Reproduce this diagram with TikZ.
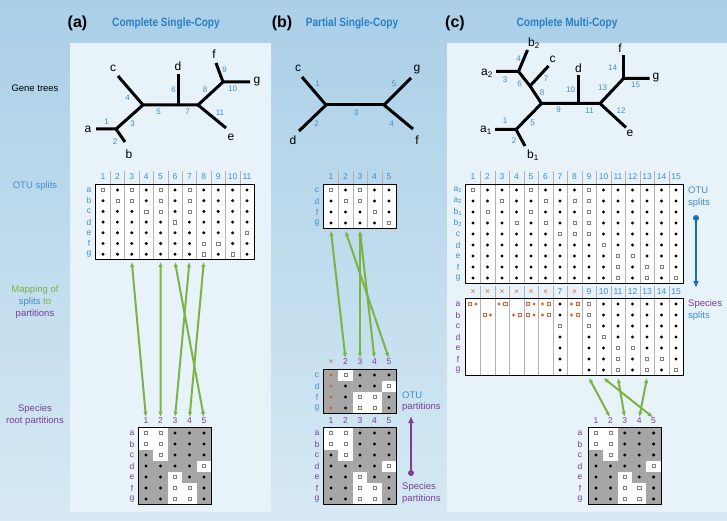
\documentclass[tikz,border=0pt]{standalone}
\usepackage{fontspec}
\setmainfont{Liberation Sans}
\newfontfamily\titlefont[FakeStretch=0.84]{Liberation Sans}
\usetikzlibrary{arrows.meta,positioning}

\definecolor{bgtop}{RGB}{170,207,231}
\definecolor{bgbot}{RGB}{214,233,244}
\definecolor{panelbg}{RGB}{231,242,249}
\definecolor{ttlblue}{RGB}{40,128,198}
\definecolor{lblblue}{RGB}{62,142,204}
\definecolor{arrowblue}{RGB}{22,112,184}
\definecolor{splitpurple}{RGB}{122,62,152}
\definecolor{mapgreen}{RGB}{122,180,70}
\definecolor{xorange}{RGB}{222,98,48}
\definecolor{partgray}{RGB}{166,166,166}
\definecolor{gridgray}{RGB}{178,178,178}

% one cell of a split matrix, drawn at (\cx,\cy)
\newcommand{\cellD}{\fill (\cx,\cy) circle (1.65);}
\newcommand{\cellS}{\fill[white] (\cx-\cellw/2,\cy-\cellh/2) rectangle ++(\cellw,\cellh);
  \draw[sqmark] (\cx-1.6,\cy-1.6) rectangle ++(3.2,3.2);}
\newcommand{\cellN}{}
\newcommand{\cellO}{\fill[xorange] (\cx,\cy) circle (1.65);}
\newcommand{\cellP}{\draw[sqmark,draw=xorange] (\cx-4.8,\cy-1.6) rectangle ++(3.2,3.2);
  \fill[xorange] (\cx+3,\cy) circle (1.65);}
\newcommand{\cellQ}{\fill[xorange] (\cx-3,\cy) circle (1.65);
  \draw[sqmark,draw=xorange] (\cx+1.6,\cy-1.6) rectangle ++(3.2,3.2);}
% rows of cells: x0, dx, y0, dy, rows
\newcommand{\splitrows}[5]{%
  \foreach \row [count=\i] in {#5} {
    \foreach \v [count=\j] in \row {
      \pgfmathsetmacro\cx{#1+(\j-1)*#2}
      \pgfmathsetmacro\cy{#3+(\i-1)*#4}
      \csname cell\v\endcsname
    }
  }}

\begin{document}
\begin{tikzpicture}[x=1pt,y=-1pt,
  edge/.style={line width=3pt,line join=miter},
  leaf/.style={font=\fontsize{12}{12}\selectfont,inner sep=0pt},
  elab/.style={font=\fontsize{8}{8}\selectfont,text=lblblue,inner sep=0pt},
  colnum/.style={font=\fontsize{8.5}{8.5}\selectfont,inner sep=0pt},
  rowlab/.style={font=\fontsize{8.5}{8.5}\selectfont,inner sep=0pt},
  sidelab/.style={font=\fontsize{9.5}{12}\selectfont,align=center,inner sep=0pt},
  ttl/.style={font=\titlefont\bfseries\fontsize{12}{12}\selectfont,text=ttlblue},
  letter/.style={font=\bfseries\fontsize{16}{16}\selectfont},
  note/.style={font=\fontsize{9.5}{9.5}\selectfont,anchor=west,inner sep=0pt},
  maparrow/.style={draw=mapgreen,line width=2pt,shorten >=1pt,
    {Latex[length=5pt,width=4.5pt]}-{Latex[length=5pt,width=4.5pt]}},
  sqmark/.style={draw=black!50,line width=0.35pt,fill=white},
  sepline/.style={draw=gridgray,line width=0.5pt},
  gridbox/.style={draw=black,line width=0.9pt},
  dotnode/.style={circle,inner sep=0pt,minimum size=6pt},
]
\useasboundingbox (0,0) rectangle (727,521);
% background and panels
\shade[top color=bgtop,bottom color=bgbot] (0,0) rectangle (727,521);
\fill[panelbg] (70,43) rectangle (271,512);
\fill[panelbg] (447,43) rectangle (727,512);

% titles
\node[letter] (ttlA) at (77.5,23) {(a)};
\node[ttl] (ttlAn) at (166,23) {Complete Single-Copy};
\node[letter] (ttlB) at (282,23) {(b)};
\node[ttl] (ttlBn) at (352,23) {Partial Single-Copy};
\node[letter] (ttlC) at (455,23) {(c)};
\node[ttl] (ttlCn) at (567,23) {Complete Multi-Copy};

% row captions
\node[sidelab] (capG) at (35,88) {Gene trees};
\node[sidelab,text=lblblue] (capO) at (35,186) {OTU splits};
\node[sidelab] (capM) at (35,302) {\textcolor{mapgreen}{Mapping of}\\
  \textcolor{lblblue}{splits} \textcolor{mapgreen}{to}\\ \textcolor{splitpurple}{partitions}};
\node[sidelab,text=splitpurple] (capS) at (35,415) {Species\\root partitions};

%%%%%%%% (a) gene tree
\coordinate (Aa) at (96,129);  \coordinate (Au1) at (116,129);
\coordinate (Ab) at (125,142); \coordinate (Au2) at (143,105);
\coordinate (Ac) at (118,76);  \coordinate (Au3) at (178,105);
\coordinate (Ad) at (178,74);  \coordinate (Au4) at (198,105);
\coordinate (Ae) at (226,128); \coordinate (Au5) at (223,82);
\coordinate (Af) at (216,63);  \coordinate (Ag) at (250,82);
\draw[edge] (Aa) -- (Au1) -- (Au2) -- (Au3) -- (Au4) -- (Au5) -- (Ag);
\draw[edge] (Au1) -- (Ab);
\draw[edge] (Au2) -- (Ac);
\draw[edge] (Au3) -- (Ad);
\draw[edge] (Au4) -- (Ae);
\draw[edge] (Au5) -- (Af);
\node[leaf] (Aat) at (88,129) {a};
\node[leaf] (Abt) at (129,154) {b};
\node[leaf] (Act) at (113,68) {c};
\node[leaf] (Adt) at (178,66) {d};
\node[leaf] (Aet) at (231,137) {e};
\node[leaf] (Aft) at (214,54) {f};
\node[leaf] (Agt) at (257,82) {g};
\foreach \n/\x/\y in {1/106.5/121.5,2/115/141.5,3/132.5/124,4/127.5/97.5,5/158.5/112,
  6/173.5/90,7/187.5/112,8/205/89.5,9/224.5/70,10/232.5/88.5,11/220/112.5}
  \node[elab] at (\x,\y) {\n};

%%%%%%%% (a) OTU splits
\def\cellw{14.4}\def\cellh{10.7}
\fill[white] (95.8,184.6) rectangle (254.2,259.6);
\splitrows{103}{14.4}{190}{10.7}{
  {S,D,S,D,S,D,S,D,D,D,D},
  {D,S,S,D,S,D,S,D,D,D,D},
  {D,D,D,S,S,D,S,D,D,D,D},
  {D,D,D,D,D,S,D,D,D,D,D},
  {D,D,D,D,D,D,D,D,D,D,S},
  {D,D,D,D,D,D,D,S,S,D,D},
  {D,D,D,D,D,D,D,S,D,S,D}}
\foreach \k in {1,...,10}
  \draw[sepline] ({95.8+\k*14.4},171) -- ({95.8+\k*14.4},259.6);
\draw[gridbox] (95.8,184.6) rectangle (254.2,259.6);
\foreach \k in {1,...,11} {
  \node[colnum,text=lblblue] (aOh\k) at ({103+(\k-1)*14.4},177) {\k};
  \coordinate (aOb\k) at ({103+(\k-1)*14.4},262);
}
\foreach \r [count=\i] in {a,b,c,d,e,f,g}
  \node[rowlab,text=lblblue] at (89,{190+(\i-1)*10.7}) {\r};

%%%%%%%% (a) species root partitions
\def\cellw{14.5}\def\cellh{11}
\fill[partgray] (138.75,427.5) rectangle (211.25,504.5);
\splitrows{146}{14.5}{433}{11}{
  {S,S,D,D,D},{S,S,D,D,D},{D,S,D,D,D},{D,D,D,D,S},
  {D,D,S,D,D},{D,D,S,S,D},{D,D,S,S,D}}
\draw[gridbox] (138.75,427.5) rectangle (211.25,504.5);
\foreach \k in {1,...,5}
  \node[colnum,text=splitpurple] (aPh\k) at ({146+(\k-1)*14.5},421) {\k};
\foreach \r [count=\i] in {a,b,c,d,e,f,g}
  \node[rowlab,text=splitpurple] at (132,{433+(\i-1)*11}) {\r};

\draw[maparrow] (aOb3) -- (aPh1.north);
\draw[maparrow] (aOb5) -- (aPh2.north);
\draw[maparrow] (aOb6) -- (aPh5.north);
\draw[maparrow] (aOb7) -- (aPh3.north);
\draw[maparrow] (aOb8) -- (aPh4.north);

%%%%%%%% (b) gene tree
\coordinate (Bc) at (302,77);  \coordinate (Bu1) at (326,105);
\coordinate (Bd) at (299,131); \coordinate (Bu2) at (384,105);
\coordinate (Bg) at (411,78);  \coordinate (Bf) at (413,129);
\draw[edge] (Bc) -- (Bu1) -- (Bd);
\draw[edge] (Bu1) -- (Bu2);
\draw[edge] (Bg) -- (Bu2) -- (Bf);
\node[leaf] (Bct) at (298,68) {c};
\node[leaf] (Bdt) at (293,140) {d};
\node[leaf] (Bgt) at (417,70) {g};
\node[leaf] (Bft) at (417,140) {f};
\foreach \n/\x/\y in {1/317.5/83.5,2/316.5/124,3/356/112.5,4/391.5/124,5/394/83.5}
  \node[elab] at (\x,\y) {\n};

%%%%%%%% (b) OTU splits
\fill[white] (323.75,184.5) rectangle (396.25,228.5);
\splitrows{331}{14.5}{190}{11}{
  {S,D,S,D,D},{D,S,S,D,D},{D,D,D,S,D},{D,D,D,D,S}}
\foreach \k in {1,...,4}
  \draw[sepline] ({323.75+\k*14.5},171) -- ({323.75+\k*14.5},228.5);
\draw[gridbox] (323.75,184.5) rectangle (396.25,228.5);
\foreach \k in {1,...,5} {
  \node[colnum,text=lblblue] (bOh\k) at ({331+(\k-1)*14.5},177) {\k};
  \coordinate (bOb\k) at ({331+(\k-1)*14.5},231);
}
\foreach \r [count=\i] in {c,d,f,g}
  \node[rowlab,text=lblblue] at (317,{190+(\i-1)*11}) {\r};

%%%%%%%% (b) OTU partitions
\fill[partgray] (323.75,369.5) rectangle (396.25,413.5);
\splitrows{331}{14.5}{375}{11}{
  {O,S,D,D,D},{O,D,D,D,S},{O,D,S,S,D},{O,D,S,S,D}}
\draw[gridbox] (323.75,369.5) rectangle (396.25,413.5);
\node[colnum,text=xorange] (bQh1) at (331,362) {×};
\foreach \k in {2,...,5}
  \node[colnum,text=splitpurple] (bQh\k) at ({331+(\k-1)*14.5},362) {\k};
\foreach \r [count=\i] in {c,d,f,g}
  \node[rowlab,text=lblblue] at (317,{375+(\i-1)*11}) {\r};

%%%%%%%% (b) species partitions
\fill[partgray] (323.75,427.5) rectangle (396.25,504.5);
\splitrows{331}{14.5}{433}{11}{
  {S,S,D,D,D},{S,S,D,D,D},{D,S,D,D,D},{D,D,D,D,S},
  {D,D,S,D,D},{D,D,S,S,D},{D,D,S,S,D}}
\draw[gridbox] (323.75,427.5) rectangle (396.25,504.5);
\foreach \k in {1,...,5}
  \node[colnum,text=splitpurple] (bPh\k) at ({331+(\k-1)*14.5},421) {\k};
\foreach \r [count=\i] in {a,b,c,d,e,f,g}
  \node[rowlab,text=splitpurple] at (317,{433+(\i-1)*11}) {\r};

\draw[maparrow] (bOb1) -- (bQh2.north);
\draw[maparrow] (bOb2) -- (bQh5.north);
\draw[maparrow] (bOb3) -- (bQh3.north);
\draw[maparrow] (bOb3) -- (bQh4.north);

% species -> OTU partitions
\node[note,text=lblblue] (bOTU) at (402,395) {OTU};
\node[note,text=splitpurple] (bOTUp) at (402,407) {partitions};
\node[note,text=splitpurple] (bSp) at (402,487) {Species};
\node[note,text=splitpurple] (bSpp) at (402,499) {partitions};
\node[dotnode,fill=splitpurple] (bdot) at (411,473) {};
\coordinate (btip) at (411,416);
\draw[splitpurple,line width=1.6pt,-{Latex[length=7pt,width=6pt]}] (bdot) -- (btip);

%%%%%%%% (c) gene tree
\coordinate (Ca1) at (495,129.5); \coordinate (Cu1) at (516,129.5);
\coordinate (Cb1) at (525,146);   \coordinate (Cu2) at (541.5,103.5);
\coordinate (Cu3) at (530,86);    \coordinate (Cc) at (548.5,66);
\coordinate (Cu4) at (518.5,71.5);\coordinate (Ca2) at (496,71.5);
\coordinate (Cb2) at (527.5,50);  \coordinate (Cu5) at (578.5,103.5);
\coordinate (Cd) at (578.5,75.5); \coordinate (Cu6) at (600,103.5);
\coordinate (Ce) at (626,127.5);  \coordinate (Cu7) at (623.5,78.5);
\coordinate (Cf) at (623.5,55);   \coordinate (Cg) at (649.5,78.5);
\draw[edge] (Ca1) -- (Cu1) -- (Cu2) -- (Cu5) -- (Cu6) -- (Cu7) -- (Cg);
\draw[edge] (Cu1) -- (Cb1);
\draw[edge] (Cu2) -- (Cu3) -- (Cu4) -- (Ca2);
\draw[edge] (Cu3) -- (Cc);
\draw[edge] (Cu4) -- (Cb2);
\draw[edge] (Cu5) -- (Cd);
\draw[edge] (Cu6) -- (Ce);
\draw[edge] (Cu7) -- (Cf);
\node[leaf] (Ca1t) at (486,130) {a\textsubscript{1}};
\node[leaf] (Ca2t) at (487,73) {a\textsubscript{2}};
\node[leaf] (Cb1t) at (533,155) {b\textsubscript{1}};
\node[leaf] (Cb2t) at (534,43) {b\textsubscript{2}};
\node[leaf] (Cct) at (552.5,59) {c};
\node[leaf] (Cdt) at (578.5,68) {d};
\node[leaf] (Cet) at (630,133) {e};
\node[leaf] (Cft) at (620,48) {f};
\node[leaf] (Cgt) at (656,78) {g};
\foreach \n/\x/\y in {1/505/120.5,2/514/140.5,3/505/79.5,4/518.5/58.5,5/532.5/122.5,
  6/519.5/84,7/546/78.5,8/542/92.5,9/558.5/110,10/570.5/89.5,11/589.5/111,
  12/621/110.5,13/602.5/87.5,14/612.5/67.5,15/635.5/85}
  \node[elab] at (\x,\y) {\n};

%%%%%%%% (c) OTU splits
\def\cellw{14.5}\def\cellh{11}
\fill[white] (465.75,184.5) rectangle (683.25,283.5);
\splitrows{473}{14.5}{190}{11}{
  {S,D,D,D,S,D,D,D,S,D,D,D,D,D,D},
  {D,D,S,D,D,S,D,S,S,D,D,D,D,D,D},
  {D,S,D,D,S,D,D,D,S,D,D,D,D,D,D},
  {D,D,D,S,D,S,D,S,S,D,D,D,D,D,D},
  {D,D,D,D,D,D,S,S,S,D,D,D,D,D,D},
  {D,D,D,D,D,D,D,D,D,S,D,D,D,D,D},
  {D,D,D,D,D,D,D,D,D,D,S,S,D,D,D},
  {D,D,D,D,D,D,D,D,D,D,S,D,S,S,D},
  {D,D,D,D,D,D,D,D,D,D,S,D,S,D,S}}
\foreach \k in {1,...,14}
  \draw[sepline] ({465.75+\k*14.5},171) -- ({465.75+\k*14.5},283.5);
\draw[gridbox] (465.75,184.5) rectangle (683.25,283.5);
\foreach \k in {1,...,15}
  \node[colnum,text=lblblue] (cOh\k) at ({473+(\k-1)*14.5},177) {\k};
\foreach \r [count=\i] in {a\textsubscript{1},a\textsubscript{2},b\textsubscript{1},
  b\textsubscript{2},c,d,e,f,g}
  \node[rowlab,text=lblblue] at (458,{190+(\i-1)*11}) {\r};
\node[note,text=lblblue] (cOTU) at (688,190) {OTU};
\node[note,text=lblblue] (cOTUs) at (688,203) {splits};
\node[dotnode,fill=arrowblue] (cdot) at (696,218) {};
\coordinate (ctip) at (696,288);
\draw[arrowblue,line width=1.6pt,-{Latex[length=7pt,width=6pt]}] (cdot) -- (ctip);

%%%%%%%% (c) species splits
\fill[white] (465.75,298.5) rectangle (683.25,375.5);
\splitrows{473}{14.5}{304}{11}{
  {P,N,Q,N,P,Q,D,Q,S,D,D,D,D,D,D},
  {N,P,N,Q,P,Q,D,Q,S,D,D,D,D,D,D},
  {N,N,N,N,N,N,S,N,S,D,D,D,D,D,D},
  {N,N,N,N,N,N,D,N,D,S,D,D,D,D,D},
  {N,N,N,N,N,N,D,N,D,D,S,S,D,D,D},
  {N,N,N,N,N,N,D,N,D,D,S,D,S,S,D},
  {N,N,N,N,N,N,D,N,D,D,S,D,S,D,S}}
\foreach \k in {1,...,14}
  \draw[sepline] ({465.75+\k*14.5},286) -- ({465.75+\k*14.5},375.5);
\draw[gridbox] (465.75,298.5) rectangle (683.25,375.5);
\foreach \k in {1,...,15} {
  \ifnum\k<7 \node[colnum,text=xorange] (cSh\k) at ({473+(\k-1)*14.5},292) {×};
  \else\ifnum\k=8 \node[colnum,text=xorange] (cSh\k) at ({473+(\k-1)*14.5},292) {×};
  \else \node[colnum,text=lblblue] (cSh\k) at ({473+(\k-1)*14.5},292) {\k};
  \fi\fi
  \coordinate (cSb\k) at ({473+(\k-1)*14.5},378);
}
\foreach \r [count=\i] in {a,b,c,d,e,f,g}
  \node[rowlab,text=splitpurple] at (458,{304+(\i-1)*11}) {\r};
\node[note,text=splitpurple] (cSp) at (688,304) {Species};
\node[note,text=lblblue] (cSps) at (688,316) {splits};

%%%%%%%% (c) species partitions
\fill[partgray] (588.8,427.5) rectangle (661.2,504.5);
\def\cellw{14.4}
\splitrows{596}{14.4}{433}{11}{
  {S,S,D,D,D},{S,S,D,D,D},{D,S,D,D,D},{D,D,D,D,S},
  {D,D,S,D,D},{D,D,S,S,D},{D,D,S,S,D}}
\draw[gridbox] (588.8,427.5) rectangle (661.2,504.5);
\foreach \k in {1,...,5}
  \node[colnum,text=splitpurple] (cPh\k) at ({596+(\k-1)*14.4},421) {\k};
\foreach \r [count=\i] in {a,b,c,d,e,f,g}
  \node[rowlab,text=splitpurple] at (580,{433+(\i-1)*11}) {\r};

\draw[maparrow] (cSb9) -- (cPh2.north);
\draw[maparrow] (cSb10) -- (cPh5.north);
\draw[maparrow] (cSb11) -- (cPh3.north);
\draw[maparrow] (cSb13) -- (cPh4.north);
\end{tikzpicture}
\end{document}
